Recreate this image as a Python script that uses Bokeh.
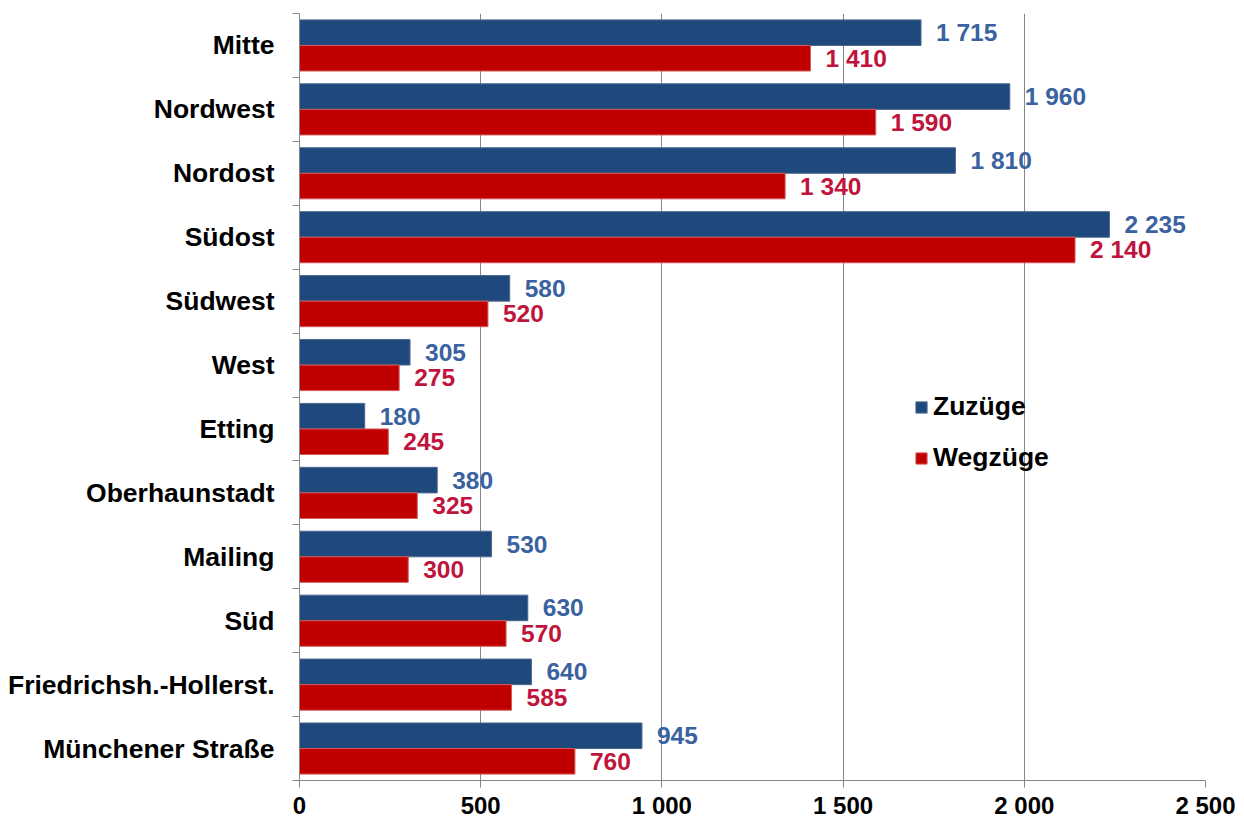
from bokeh.plotting import figure
from bokeh.models import Range1d, FixedTicker, Legend, LegendItem, ColumnDataSource
from bokeh.core.properties import value
from bokeh.embed import file_html
from bokeh.resources import INLINE

categories = ["Mitte", "Nordwest", "Nordost", "Südost", "Südwest", "West", "Etting",
              "Oberhaunstadt", "Mailing", "Süd", "Friedrichsh.-Hollerst.", "Münchener Straße"]
zuzuege = [1715, 1960, 1810, 2235, 580, 305, 180, 380, 530, 630, 640, 945]
wegzuege = [1410, 1590, 1340, 2140, 520, 275, 245, 325, 300, 570, 585, 760]
x_ticks = [0, 500, 1000, 1500, 2000, 2500]
x_tick_labels = ["0", "500", "1 000", "1 500", "2 000", "2 500"]
series_names = ["Zuzüge", "Wegzüge"]

BLUE = "#1F497D"
RED = "#C00000"
BLUE_TXT = "#3A62A0"
RED_TXT = "#C0143C"
GRAY = "#868686"
FONT = "Liberation Sans"

n = len(categories)
centers = [n - i - 0.5 for i in range(n)]


def fmt(v):
    return f"{v:,}".replace(",", " ")


src = ColumnDataSource(dict(
    cat=categories,
    yz=[c + 0.2 for c in centers],
    yw=[c - 0.2 for c in centers],
    z=zuzuege,
    w=wegzuege,
    zl=[fmt(v) for v in zuzuege],
    wl=[fmt(v) for v in wegzuege],
))

W, H = 1242, 821
p = figure(width=W, height=H, output_backend="svg", toolbar_location=None,
           x_range=Range1d(0, 2500), y_range=Range1d(0, n),
           min_border_left=299, min_border_right=W - 1205,
           min_border_top=13, min_border_bottom=H - 780)
p.outline_line_color = None
p.background_fill_color = "white"

rz = p.hbar(y="yz", right="z", left=0, height=0.4, source=src,
            fill_color=BLUE, line_color="#4D6890", line_width=1)
rw = p.hbar(y="yw", right="w", left=0, height=0.4, source=src,
            fill_color=RED, line_color="#D65A5A", line_width=1)

p.text(x="z", y="yz", text="zl", source=src, x_offset=15, text_baseline="middle",
       text_align="left", text_font=value(FONT), text_font_style="bold",
       text_font_size="24.5px", text_color=BLUE_TXT)
p.text(x="w", y="yw", text="wl", source=src, x_offset=15, text_baseline="middle",
       text_align="left", text_font=value(FONT), text_font_style="bold",
       text_font_size="24.5px", text_color=RED_TXT)

# x axis
p.xaxis.ticker = FixedTicker(ticks=x_ticks)
p.xaxis.major_label_overrides = {t: l for t, l in zip(x_ticks, x_tick_labels)}
p.xaxis.axis_line_color = GRAY
p.xaxis.major_tick_line_color = GRAY
p.xaxis.major_tick_out = 7
p.xaxis.major_tick_in = 0
p.xaxis.minor_tick_line_color = None
p.xaxis.major_label_standoff = 4
p.xaxis.major_label_text_font = FONT
p.xaxis.major_label_text_font_style = "bold"
p.xaxis.major_label_text_font_size = "24px"
p.xaxis.major_label_text_color = "black"

# y axis
p.yaxis.ticker = FixedTicker(ticks=centers, minor_ticks=list(range(n + 1)))
p.yaxis.major_label_overrides = {c: name for c, name in zip(centers, categories)}
p.yaxis.axis_line_color = GRAY
p.yaxis.major_tick_line_color = None
p.yaxis.major_tick_out = 0
p.yaxis.major_tick_in = 0
p.yaxis.minor_tick_line_color = GRAY
p.yaxis.minor_tick_out = 7
p.yaxis.minor_tick_in = 0
p.yaxis.major_label_standoff = 18
p.yaxis.major_label_text_font = FONT
p.yaxis.major_label_text_font_style = "bold"
p.yaxis.major_label_text_font_size = "26.5px"
p.yaxis.major_label_text_color = "black"

p.ygrid.grid_line_color = None
p.xgrid.grid_line_color = GRAY
p.xgrid.grid_line_width = 1
p.xgrid.ticker = FixedTicker(ticks=x_ticks)

legend = Legend(items=[LegendItem(label=series_names[0], renderers=[rz]),
                       LegendItem(label=series_names[1], renderers=[rw])],
                location=(615, 307), orientation="vertical",
                glyph_width=14, glyph_height=14, label_standoff=5,
                label_height=26, spacing=20, padding=0, margin=0,
                border_line_color=None, background_fill_alpha=0,
                label_text_font=FONT, label_text_font_style="bold",
                label_text_font_size="26.5px", label_text_color="black")
p.add_layout(legend, "center")

open("out.html", "w").write(file_html(p, INLINE))
